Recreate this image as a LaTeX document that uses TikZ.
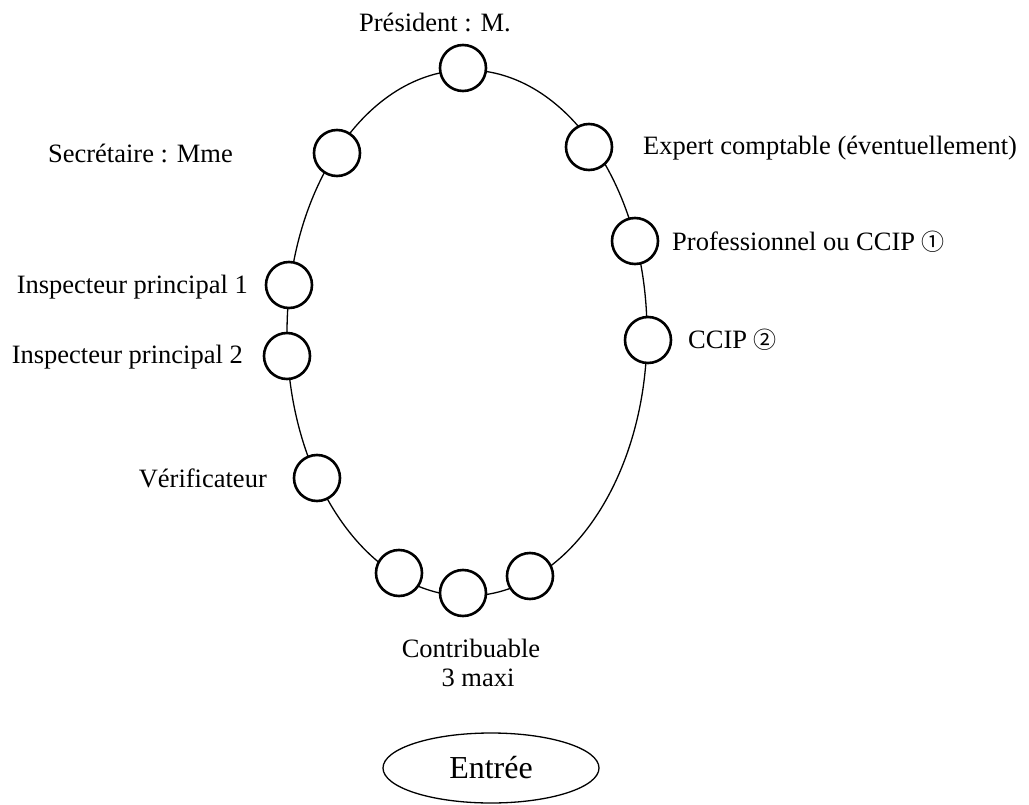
\documentclass[tikz,border=0pt]{standalone}
\usepackage{fontspec}
\setmainfont{Liberation Serif}
\newfontfamily\symfont{Noto Sans CJK JP}
\usetikzlibrary{shapes.geometric}
\begin{document}
\begin{tikzpicture}[x=1bp,y=-1bp,
  seat/.style={circle,draw,line width=2.6bp,fill=white,minimum size=46bp,inner sep=0pt},
  lbl/.style={inner sep=0pt,font=\fontsize{26.5bp}{31bp}\selectfont},
  ring/.style={line width=1.3bp}]
\useasboundingbox (0,0) rectangle (1029,805);
\draw[ring] (467,333) ellipse [x radius=180bp, y radius=263bp];
\node[seat] (pres) at (463,68) {};
\node[seat] (secr) at (337,153) {};
\node[seat] (expe) at (589,147) {};
\node[seat] (prof) at (635,241) {};
\node[seat] (ccip) at (648,340) {};
\node[seat] (ins1) at (289,285) {};
\node[seat] (ins2) at (287,356) {};
\node[seat] (veri) at (317,478) {};
\node[seat] (cb1) at (399,573) {};
\node[seat] (cb2) at (463,593) {};
\node[seat] (cb3) at (530,576) {};
\node[lbl] (tpres) at (435,22) {Président : M.};
\node[lbl,anchor=east] (tsecr) at (233,153) {Secrétaire : Mme};
\node[lbl,anchor=west] (texpe) at (643,148) {Expert comptable (éventuellement)};
\node[lbl,anchor=west] (tprof) at (672,242) {Professionnel ou CCIP {\symfont\fontsize{23bp}{26bp}\selectfont ①}};
\node[lbl,anchor=west] (tccip) at (688,340) {CCIP {\symfont\fontsize{23bp}{26bp}\selectfont ②}};
\node[lbl,anchor=east] (tins1) at (248,287) {Inspecteur principal 1};
\node[lbl,anchor=east] (tins2) at (243,357) {Inspecteur principal 2};
\node[lbl,anchor=east] (tveri) at (267,478) {Vérificateur};
\node[lbl] (tcont) at (471,648) {Contribuable};
\node[lbl] (tmaxi) at (478,678) {3 maxi};
\node[draw,ellipse,line width=1.3bp,minimum width=216bp,minimum height=70bp,inner sep=0pt,font=\fontsize{32bp}{36bp}\selectfont] (entree) at (491,768) {Entrée};
\end{tikzpicture}
\end{document}
